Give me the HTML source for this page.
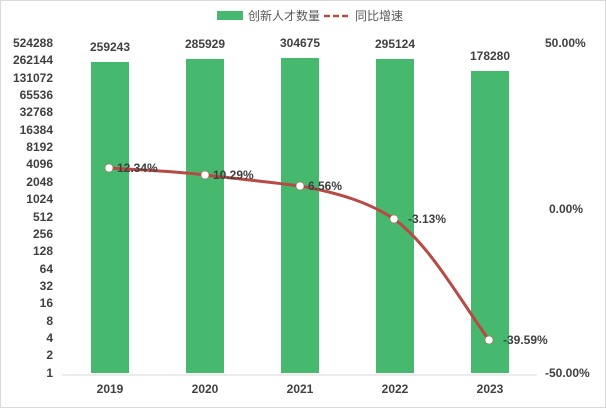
<!DOCTYPE html>
<html><head><meta charset="utf-8"><style>
body{margin:0;background:#fff}
svg{display:block;font-family:"Liberation Sans","Noto Sans CJK SC",sans-serif}
</style></head><body>
<svg width="606" height="408" viewBox="0 0 606 408">
<rect x="0.5" y="0.5" width="605" height="407" fill="#fff" stroke="#d9d9d9"/>
<rect x="217" y="11" width="26" height="9" fill="#47b96f"/>
<text x="248" y="20" font-size="12" fill="#595959">创新人才数量</text>
<line x1="324" y1="16" x2="350" y2="16" stroke="#b84a45" stroke-width="2.5" stroke-dasharray="6,3"/>
<text x="355" y="20" font-size="12" fill="#595959">同比增速</text>
<g font-size="12" font-weight="bold" fill="#404040" text-anchor="end">
<text x="53" y="47">524288</text><text x="53" y="64">262144</text><text x="53" y="82">131072</text><text x="53" y="99">65536</text><text x="53" y="116">32768</text><text x="53" y="134">16384</text><text x="53" y="151">8192</text><text x="53" y="168">4096</text><text x="53" y="186">2048</text><text x="53" y="203">1024</text><text x="53" y="221">512</text><text x="53" y="238">256</text><text x="53" y="255">128</text><text x="53" y="273">64</text><text x="53" y="290">32</text><text x="53" y="307">16</text><text x="53" y="325">8</text><text x="53" y="342">4</text><text x="53" y="359">2</text><text x="53" y="377">1</text>
</g>
<g font-size="12" font-weight="bold" fill="#404040">
<text x="545" y="47">50.00%</text><text x="549" y="213">0.00%</text><text x="545" y="377">-50.00%</text>
</g>
<g fill="#47b96f">
<rect x="91" y="62" width="38" height="311"/>
<rect x="186" y="59" width="38" height="314"/>
<rect x="281" y="58" width="38" height="315"/>
<rect x="376" y="59" width="38" height="314"/>
<rect x="471" y="71" width="38" height="302"/>
</g>
<line x1="62" y1="375" x2="537" y2="375" stroke="#d9d9d9"/>
<g font-size="12" font-weight="bold" fill="#404040" text-anchor="middle">
<text x="110" y="51">259243</text><text x="205" y="48">285929</text><text x="300" y="47">304675</text><text x="395" y="48">295124</text><text x="490" y="60">178280</text>
<text x="110" y="393">2019</text><text x="205" y="393">2020</text><text x="300" y="393">2021</text><text x="395" y="393">2022</text><text x="490" y="393">2023</text>
</g>
<path d="M109,168 C160,171 180,172 205,175 C240,179 270,182 300,186 C340,193 370,203 394,219 C430,245 460,300 489,340" fill="none" stroke="#b84a45" stroke-width="3"/>
<g fill="#fff" stroke="#b84a45" stroke-width="0.5">
<circle cx="109" cy="168" r="4"/><circle cx="205" cy="175" r="4"/><circle cx="300" cy="186" r="4"/><circle cx="394" cy="219" r="4"/><circle cx="489" cy="340" r="4"/>
</g>
<g font-size="12" font-weight="bold" fill="#404040">
<text x="117" y="172">12.34%</text><text x="213" y="179">10.29%</text><text x="308" y="190">6.56%</text><text x="408" y="223">-3.13%</text><text x="503" y="344">-39.59%</text>
</g>
</svg>
</body></html>
